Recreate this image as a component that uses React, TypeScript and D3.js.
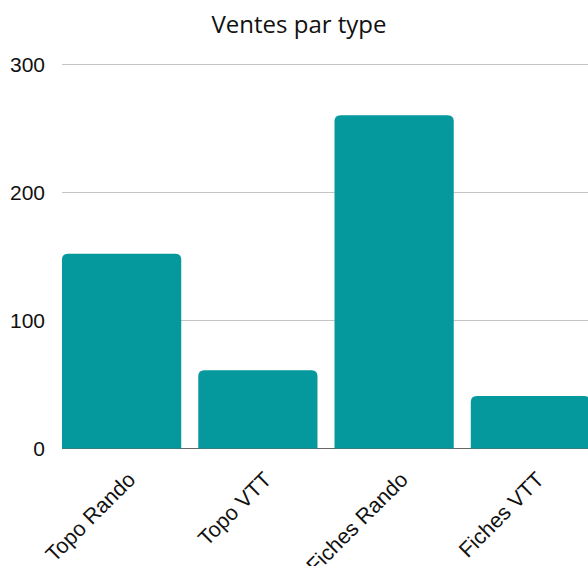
import React from "react";
import * as d3 from "d3";

const categories = ["Topo Rando", "Topo VTT", "Fiches Rando", "Fiches VTT"];
const values = [152, 61, 260, 41];
const yTicks = [0, 100, 200, 300];
const title = "Ventes par type";

const W = 588;
const H = 566;

function topRoundedRect(x: number, y: number, w: number, h: number, r: number) {
  const rr = Math.min(r, h, w / 2);
  return `M${x},${y + h}V${y + rr}Q${x},${y} ${x + rr},${y}H${x + w - rr}Q${x + w},${y} ${x + w},${y + rr}V${y + h}Z`;
}

export default function App() {
  const x = d3.scaleBand<string>().domain(categories).range([62, 590]).paddingInner(0.125).paddingOuter(0);
  const y = d3.scaleLinear().domain([0, 300]).range([448.5, 64]);
  const bw = x.bandwidth();
  return (
    <svg width={W} height={H} style={{ position: "absolute", left: 0, top: 0 }}>
      <rect width={W} height={H} fill="#ffffff" />
      <text x={299} y={33} textAnchor="middle" fontFamily="'Open Sans', sans-serif" fontSize={24} fill="#111">
        {title}
      </text>
      {yTicks.filter((t) => t > 0).map((t) => (
        <line key={t} x1={62} x2={W} y1={Math.round(y(t)) + 0.5} y2={Math.round(y(t)) + 0.5} stroke="#c4c4c4" strokeWidth={1} />
      ))}
      {yTicks.map((t) => (
        <text key={"l" + t} x={45} y={y(t)} dy="0.36em" textAnchor="end" fontFamily="'Liberation Sans', Arial, sans-serif" fontSize={21} fill="#111">
          {t}
        </text>
      ))}
      <line x1={62} x2={W} y1={448.5} y2={448.5} stroke="#666" strokeWidth={1} />
      {categories.map((c, i) => (
        <path key={c} d={topRoundedRect(x(c)!, y(values[i]), bw, y(0) - y(values[i]), 6)} fill="#05989D" />
      ))}
      {categories.map((c) => {
        const cx = x(c)! + bw / 2 + 15;
        const cy = 481;
        return (
          <text key={"x" + c} x={cx} y={cy} textAnchor="end" transform={`rotate(-45 ${cx} ${cy})`} fontFamily="'Liberation Sans', Arial, sans-serif" fontSize={21.5} fill="#111">
            {c}
          </text>
        );
      })}
    </svg>
  );
}
